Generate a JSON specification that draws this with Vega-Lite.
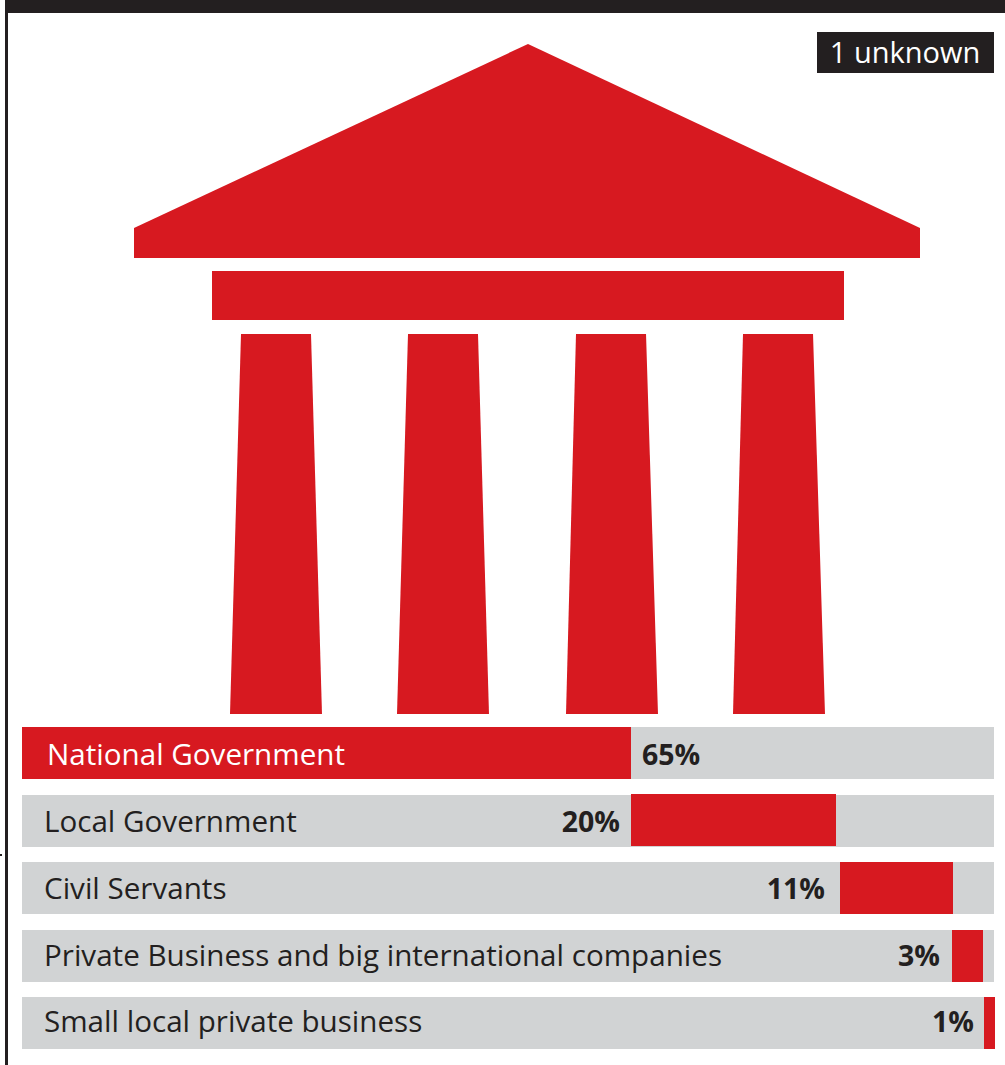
{
"$schema":"https://vega.github.io/schema/vega-lite/v6.json",
"autosize":{"type":"fit","contains":"padding"},
"width":1005,"height":1065,"padding":0,
"background":"white",
"config":{"view":{"stroke":null},"text":{"font":"Open Sans"}},
"resolve":{"scale":{"color":"independent"}},
"datasets":{
"frame":[
{"name":"top band","a":5,"b":1005,"top":0,"bottom":13,"kind":"ink"},
{"name":"left border","a":5,"b":8,"top":0,"bottom":1065,"kind":"ink"},
{"name":"margin tick","a":0,"b":2,"top":854,"bottom":856,"kind":"ink"},
{"name":"unknown box","a":817,"b":994,"top":32,"bottom":73,"kind":"ink"},
{"name":"National Government track","a":22,"b":994,"top":727,"bottom":779,"kind":"track"},
{"name":"Local Government track","a":22,"b":994,"top":795,"bottom":847,"kind":"track"},
{"name":"Civil Servants track","a":22,"b":994,"top":862,"bottom":914,"kind":"track"},
{"name":"Private Business track","a":22,"b":994,"top":930,"bottom":982,"kind":"track"},
{"name":"Small local track","a":22,"b":994,"top":997,"bottom":1049,"kind":"track"},
{"name":"National Government","a":22,"b":631,"top":727,"bottom":779,"kind":"share"},
{"name":"Local Government","a":631,"b":836,"top":794,"bottom":846,"kind":"share"},
{"name":"Civil Servants","a":840,"b":953,"top":862,"bottom":914,"kind":"share"},
{"name":"Private Business","a":952,"b":983,"top":930,"bottom":982,"kind":"share"},
{"name":"Small local","a":984,"b":995,"top":997,"bottom":1049,"kind":"share"}
],
"temple":[
{"part":"roof","y":44,"l":528,"r":528},{"part":"roof","y":228,"l":134,"r":920},{"part":"roof","y":258,"l":134,"r":920},
{"part":"beam","y":271,"l":212,"r":844},{"part":"beam","y":320,"l":212,"r":844},
{"part":"col1","y":334,"l":241,"r":311},{"part":"col1","y":714,"l":230,"r":322},
{"part":"col2","y":334,"l":408,"r":478},{"part":"col2","y":714,"l":397,"r":489},
{"part":"col3","y":334,"l":576,"r":646},{"part":"col3","y":714,"l":566,"r":658},
{"part":"col4","y":334,"l":743,"r":813},{"part":"col4","y":714,"l":733,"r":825}
],
"names":[
{"label":"National Government","x":47,"y":756,"tone":"light"},
{"label":"Local Government","x":44,"y":823,"tone":"dark"},
{"label":"Civil Servants","x":44,"y":890,"tone":"dark"},
{"label":"Private Business and big international companies","x":44,"y":957,"tone":"dark"},
{"label":"Small local private business","x":44,"y":1023,"tone":"dark"}
],
"pcts":[
{"label":"20%","x":620,"y":823},
{"label":"11%","x":825,"y":890},
{"label":"3%","x":940,"y":957},
{"label":"1%","x":974,"y":1023}
]
},
"layer":[
{"data":{"name":"frame"},"mark":{"type":"rect"},
"encoding":{
"x":{"field":"a","type":"quantitative","scale":{"domain":[0,1005],"nice":false,"zero":false},"axis":null},
"x2":{"field":"b"},
"y":{"field":"top","type":"quantitative","scale":{"domain":[1065,0],"nice":false,"zero":false},"axis":null},
"y2":{"field":"bottom"},
"color":{"field":"kind","type":"nominal","scale":{"domain":["ink","track","share"],"range":["#231F20","#D1D3D4","#D71920"]},"legend":null},
"order":{"field":"kind","sort":"descending"}
}},
{"data":{"name":"temple"},"mark":{"type":"area","orient":"horizontal","color":"#D71920","interpolate":"linear"},
"encoding":{
"y":{"field":"y","type":"quantitative","scale":{"domain":[1065,0],"nice":false,"zero":false},"axis":null},
"x":{"field":"l","type":"quantitative","scale":{"domain":[0,1005],"nice":false,"zero":false},"axis":null},
"x2":{"field":"r"},
"detail":{"field":"part"}
}},
{"data":{"name":"names"},"mark":{"type":"text","align":"left","baseline":"middle","fontSize":29.6,"font":"Open Sans"},
"encoding":{
"x":{"field":"x","type":"quantitative","scale":{"domain":[0,1005],"nice":false,"zero":false},"axis":null},
"y":{"field":"y","type":"quantitative","scale":{"domain":[1065,0],"nice":false,"zero":false},"axis":null},
"text":{"field":"label"},
"color":{"field":"tone","type":"nominal","scale":{"domain":["light","dark"],"range":["#FFFFFF","#231F20"]},"legend":null}
}},
{"data":{"name":"pcts"},"mark":{"type":"text","align":"right","baseline":"middle","fontSize":28.5,"fontWeight":"bold","font":"Open Sans","color":"#231F20"},
"encoding":{
"x":{"field":"x","type":"quantitative","scale":{"domain":[0,1005],"nice":false,"zero":false},"axis":null},
"y":{"field":"y","type":"quantitative","scale":{"domain":[1065,0],"nice":false,"zero":false},"axis":null},
"text":{"field":"label"}
}},
{"data":{"values":[{"label":"65%","x":642,"y":756}]},"mark":{"type":"text","align":"left","baseline":"middle","fontSize":28.5,"fontWeight":"bold","font":"Open Sans","color":"#231F20"},
"encoding":{
"x":{"field":"x","type":"quantitative","scale":{"domain":[0,1005],"nice":false,"zero":false},"axis":null},
"y":{"field":"y","type":"quantitative","scale":{"domain":[1065,0],"nice":false,"zero":false},"axis":null},
"text":{"field":"label"}
}},
{"data":{"values":[{"label":"1 unknown","x":905,"y":54}]},"mark":{"type":"text","align":"center","baseline":"middle","fontSize":29,"font":"Open Sans","color":"#FFFFFF"},
"encoding":{
"x":{"field":"x","type":"quantitative","scale":{"domain":[0,1005],"nice":false,"zero":false},"axis":null},
"y":{"field":"y","type":"quantitative","scale":{"domain":[1065,0],"nice":false,"zero":false},"axis":null},
"text":{"field":"label"}
}}
]
}
